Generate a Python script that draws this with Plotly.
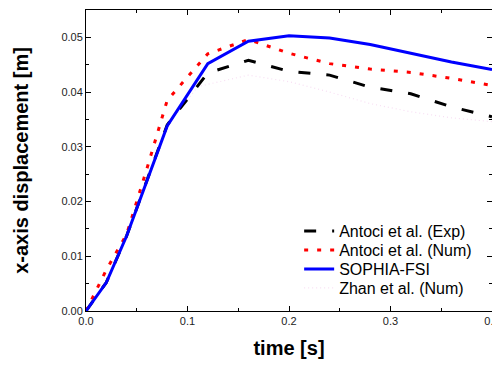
import plotly.graph_objects as go

# Data
t_exp = [0.0, 0.02, 0.04, 0.08, 0.12, 0.16, 0.20, 0.24, 0.28, 0.32, 0.36, 0.40]
x_exp = [0.0, 0.0052, 0.0137, 0.0340, 0.0435, 0.0458, 0.0438, 0.0431, 0.0409, 0.0397, 0.0373, 0.0355]

t_num = [0.0, 0.02, 0.04, 0.06, 0.08, 0.12, 0.16, 0.20, 0.24, 0.28, 0.32, 0.36, 0.40]
x_num = [0.0, 0.0075, 0.0140, 0.0260, 0.0385, 0.0470, 0.0496, 0.0471, 0.0452, 0.0442, 0.0436, 0.0425, 0.0412]

t_sph = [0.0, 0.02, 0.04, 0.08, 0.12, 0.16, 0.20, 0.24, 0.28, 0.32, 0.36, 0.40]
x_sph = [0.0, 0.0052, 0.0137, 0.0338, 0.0452, 0.0493, 0.0503, 0.0499, 0.0487, 0.0471, 0.0455, 0.0441]

t_zhan = [0.0, 0.02, 0.04, 0.08, 0.11, 0.16, 0.20, 0.24, 0.28, 0.32, 0.36, 0.40]
x_zhan = [0.0, 0.0052, 0.0137, 0.0338, 0.0410, 0.0431, 0.0419, 0.0400, 0.0379, 0.0364, 0.0353, 0.0346]

names = ["Antoci et al. (Exp)", "Antoci et al. (Num)", "SOPHIA-FSI", "Zhan et al. (Num)"]

FONT = "Liberation Sans, Arial"

fig = go.Figure()
fig.add_trace(go.Scatter(x=t_zhan, y=x_zhan, mode="lines", name=names[3], legend="legend4",
                         line=dict(color="#f7def3", width=1.2, dash="1px,3px")))
fig.add_trace(go.Scatter(x=t_exp, y=x_exp, mode="lines", name=names[0], legend="legend",
                         line=dict(color="black", width=3, dash="12px,16px")))
fig.add_trace(go.Scatter(x=t_num, y=x_num, mode="lines", name=names[1], legend="legend2",
                         line=dict(color="#ff0000", width=3, dash="4px,9px")))
fig.add_trace(go.Scatter(x=t_sph, y=x_sph, mode="lines", name=names[2], legend="legend3",
                         line=dict(color="#0000ff", width=3)))

axis_common = dict(
    showline=True, linecolor="black", linewidth=1, mirror="ticks",
    ticks="inside", ticklen=5, tickcolor="black", tickwidth=1,
    showgrid=False, zeroline=False, automargin=False,
    tickfont=dict(family=FONT, size=11, color="#222"),
)

fig.update_xaxes(range=[0, 0.4], dtick=0.1, tick0=0, tickformat=".1f",
                 minor=dict(dtick=0.05, ticks="inside", ticklen=3, tickcolor="black"),
                 title=dict(text="<b>time [s]</b>", font=dict(family=FONT, size=20, color="black"), standoff=14),
                 **axis_common)
fig.update_yaxes(range=[0, 0.055], dtick=0.01, tick0=0, tickformat=".2f",
                 minor=dict(dtick=0.005, ticks="inside", ticklen=3, tickcolor="black"),
                 title=dict(text="<b>x-axis displacement [m]</b>", font=dict(family=FONT, size=20, color="black"), standoff=27),
                 **axis_common)

leg = dict(x=0.525, xanchor="left", yanchor="middle", bgcolor="rgba(0,0,0,0)",
           font=dict(family=FONT, size=16, color="black"), itemwidth=30)
fig.update_layout(
    width=492, height=357,
    margin=dict(l=78, r=8, t=2, b=54),
    plot_bgcolor="white", paper_bgcolor="white",
    font=dict(family=FONT, color="black"),
    showlegend=True,
    legend=dict(y=0.2658, **leg),
    legend2=dict(y=0.2027, **leg),
    legend3=dict(y=0.1395, **leg),
    legend4=dict(y=0.0764, **leg),
)

fig.write_html("out.html")
